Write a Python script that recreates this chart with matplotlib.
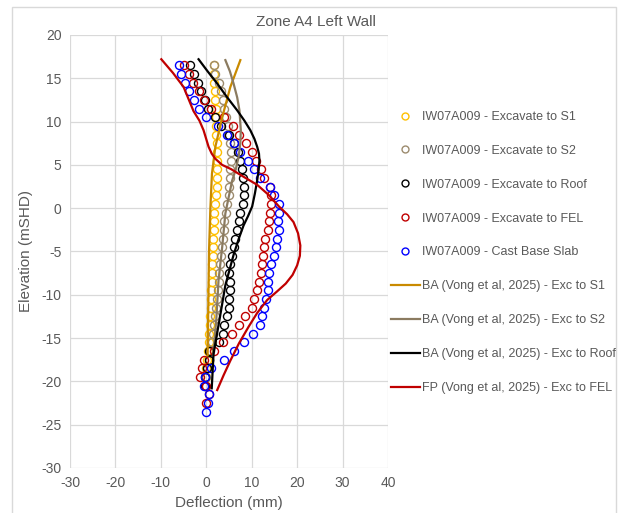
import matplotlib
matplotlib.use("Agg")
import matplotlib.pyplot as plt
from matplotlib.lines import Line2D
from matplotlib.patches import Rectangle

plt.rcParams['font.family'] = ['Liberation Sans', 'DejaVu Sans']
plt.rcParams['axes.unicode_minus'] = False

# measured elevations (mSHD), 1 m spacing from 16.5 down
elev = [16.5 - i for i in range(41)]

# inclinometer IW07A009 deflections (mm), top to bottom
exc_s1 = [1.7, 1.8, 1.8, 1.9, 2.0, 2.1, 2.2, 2.2, 2.2, 2.3, 2.4, 2.4, 2.4, 2.4,
          2.3, 2.2, 2.0, 1.8, 1.7, 1.6, 1.5, 1.5, 1.4, 1.3, 1.3, 1.2, 1.1, 1.0,
          1.0, 0.9, 0.8, 0.7, 0.6, 0.4, 0.2, 0.0, -0.1]
exc_s2 = [1.6, 2.0, 2.7, 3.2, 3.6, 4.0, 4.4, 4.8, 4.8, 5.3, 5.5, 5.5, 5.3, 5.2,
          5.1, 4.9, 4.6, 4.3, 4.0, 3.8, 3.6, 3.4, 3.2, 3.0, 2.8, 2.7, 2.5, 2.3,
          2.1, 1.9, 1.7, 1.5, 1.2, 0.9, 0.5, 0.2, 0.0]
exc_roof = [-3.5, -2.8, -1.9, -1.2, -0.3, 0.4, 2.0, 3.3, 4.9, 6.2, 7.0, 7.5, 7.9,
            8.1, 8.4, 8.3, 8.1, 7.5, 7.1, 6.8, 6.4, 6.0, 5.7, 5.3, 5.1, 5.2, 5.3,
            5.1, 4.9, 4.6, 4.0, 3.7, 2.9, 0.7, 0.5, 0.1, -0.2, -0.2]
exc_fel = [-4.8, -3.9, -3.0, -1.5, -0.4, 1.1, 4.0, 5.8, 7.3, 8.8, 10.1, 11.0,
           12.0, 12.8, 14.1, 14.3, 14.3, 14.1, 13.7, 13.5, 13.0, 12.8, 12.5,
           12.3, 12.0, 11.6, 11.2, 10.6, 10.1, 8.5, 7.3, 5.7, 3.7, 1.8, -0.5,
           -0.9, -1.3, -0.1, 0.5, -0.1]
base_slab = [-6.1, -5.6, -4.6, -3.7, -2.8, -1.7, 0.0, 2.6, 4.6, 6.0, 7.5, 9.2,
             10.5, 11.9, 14.0, 15.0, 15.9, 16.1, 15.8, 15.9, 15.6, 15.4, 14.8,
             14.2, 13.7, 13.6, 13.5, 13.2, 12.8, 12.3, 11.9, 10.3, 8.2, 6.1, 4.0,
             1.1, -0.2, -0.6, 0.7, 0.4, -0.1]

# predicted profiles (Vong et al, 2025)
ba_s1_x = [7.5, 5.3, 3.5, 2.0, 1.25, 0.9, 0.6, 0.4, 0.3]
ba_s1_y = [17.1, 14.0, 10.5, 7.1, 4.0, 0.0, -5.0, -13.0, -17.0]
ba_s2_x = [4.2, 5.2, 6.0, 6.8, 7.3, 7.6, 7.5, 7.1, 6.5, 5.7, 4.9, 4.2, 3.5,
           2.7, 2.2, 1.5]
ba_s2_y = [17.1, 15.8, 14.4, 12.8, 11.3, 9.0, 7.5, 5.9, 4.5, 3.2, 1.2, -0.6,
           -4.5, -8.3, -12.9, -17.0]
ba_roof_x = [-1.7, 0.3, 2.4, 4.6, 6.8, 8.4, 9.7, 10.6, 11.2, 11.6, 11.7, 11.5,
             11.2, 10.7, 10.1, 9.2, 8.2, 7.1, 6.0, 4.2, 2.9, 1.6, 1.2]
ba_roof_y = [17.2, 15.8, 14.4, 12.8, 11.3, 10.1, 9.0, 8.0, 7.1, 6.3, 5.5, 4.3,
             3.2, 1.7, 0.2, -0.9, -2.0, -3.6, -5.4, -8.9, -12.9, -16.8, -20.8]
fp_fel_x = [-9.9, -7.3, -5.0, -2.8, -1.5, -0.6, 0.5, 1.2, 2.0, 3.5, 5.5, 8.3,
            11.2, 13.8, 16.0, 17.8, 19.2, 20.2, 20.7, 20.6, 20.0, 19.0, 17.5,
            15.6, 13.4, 11.2, 9.3, 7.2, 5.3, 3.8, 2.4]
fp_fel_y = [17.2, 15.6, 14.0, 11.2, 10.1, 9.0, 7.1, 6.3, 5.7, 5.0, 4.5, 3.6,
            2.7, 1.5, 0.2, -0.7, -1.6, -2.9, -4.3, -5.5, -6.6, -7.7, -8.7,
            -9.6, -10.6, -12.1, -13.7, -15.6, -17.6, -19.3, -21.0]

marker_series = [
    ("IW07A009 - Excavate to S1", exc_s1, "#FFC000"),
    ("IW07A009 - Excavate to S2", exc_s2, "#9C8B6E"),
    ("IW07A009 - Excavate to Roof", exc_roof, "#000000"),
    ("IW07A009 - Excavate to FEL", exc_fel, "#C00000"),
    ("IW07A009 - Cast Base Slab", base_slab, "#0000FF"),
]
line_series = [
    ("BA (Vong et al, 2025) - Exc to S1", ba_s1_x, ba_s1_y, "#C98A00"),
    ("BA (Vong et al, 2025) - Exc to S2", ba_s2_x, ba_s2_y, "#8B7B60"),
    ("BA (Vong et al, 2025) - Exc to Roof", ba_roof_x, ba_roof_y, "#000000"),
    ("FP (Vong et al, 2025) - Exc to FEL", fp_fel_x, fp_fel_y, "#C00000"),
]

W, H = 623, 513
fig = plt.figure(figsize=(W / 100, H / 100), dpi=100)
ax = fig.add_axes([70 / W, 1 - 468 / H, 318 / W, 433 / H])

grey = "#595959"
handles = []
for label, vals, col in marker_series:
    ax.plot(vals, elev[:len(vals)], linestyle="none", marker="o", ms=5.8,
            mfc="none", mec=col, mew=1.0)
    handles.append(Line2D([], [], linestyle="none", marker="o", ms=5,
                          mfc="none", mec=col, mew=1.0, label=label))
for label, xs, ys, col in line_series:
    ax.plot(xs, ys, color=col, lw=1.6, solid_joinstyle="round")
    handles.append(Line2D([], [], color=col, lw=1.6, label=label))

ax.set_xlim(-30, 40)
ax.set_ylim(-30, 20)
ax.set_xticks(range(-30, 41, 10))
ax.set_yticks(range(-30, 21, 5))
ax.grid(True, color="#D9D9D9", lw=0.9)
ax.set_axisbelow(True)
for s in ax.spines.values():
    s.set_visible(False)
ax.tick_params(length=0, labelsize=10, labelcolor=grey, pad=6)
ax.set_xlabel("Deflection (mm)", fontsize=11, color=grey, labelpad=4)
ax.set_ylabel("Elevation (mSHD)", fontsize=11, color=grey, labelpad=6)

fig.text(0.507, 1 - 22 / H, "Zone A4 Left Wall", ha="center", va="center",
         fontsize=11, color=grey)

fig.legend(handles=handles, loc="upper left",
           bbox_to_anchor=(391 / W, 1 - 111 / H), frameon=False,
           fontsize=9, labelcolor=grey, labelspacing=1.75, handlelength=2.3,
           handletextpad=0.2, borderpad=0, borderaxespad=0)

fig.patches.append(Rectangle((12 / W, -0.02), 604 / W, 1.02 - 7 / H,
                             transform=fig.transFigure, fill=False,
                             edgecolor="#D9D9D9", lw=1.0))

fig.savefig("out.png", dpi=100)
